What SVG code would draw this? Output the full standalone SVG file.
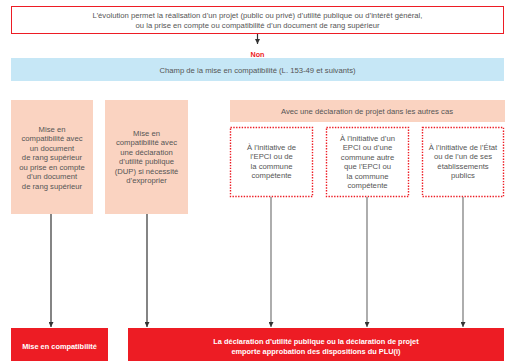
<svg xmlns="http://www.w3.org/2000/svg" width="505" height="361" viewBox="0 0 505 361">
<style>
text{font-family:"Liberation Sans",Arial,sans-serif;font-size:7.7px;fill:#555;text-anchor:middle}
.w{fill:#fff;font-weight:bold;font-size:7.4px}
.peach{fill:#fad3c1}
.dot{fill:#fff;stroke:#ed1c24;stroke-width:1.4;stroke-dasharray:1.4 1.4}
.red{fill:#ed1c24}
.dk{stroke:#333;stroke-width:1.2;fill:none}
.gr{stroke:#777;stroke-width:1.2;fill:none}
</style>
<defs>
<marker id="ah" markerWidth="6" markerHeight="5" refX="5" refY="2.5" orient="auto" markerUnits="userSpaceOnUse">
<path d="M0,0 L5,2.5 L0,5 Z" fill="#333"/>
</marker>
</defs>
<rect width="505" height="361" fill="#fff"/>
<g id="top">
<rect x="11.5" y="6.5" width="492" height="27" fill="#fff" stroke="#ed1c24" stroke-width="1"/>
<text x="257.5" y="17.5">L’évolution permet la réalisation d’un projet (public ou privé) d’utilité publique ou d’intérêt général,</text>
<text x="257.5" y="27.5">ou la prise en compte ou compatibilité d’un document de rang supérieur</text>
</g>
<g id="non"><text x="257.5" y="56.5" style="fill:#ed1c24;font-weight:bold;font-size:7.2px">Non</text></g>
<g id="champ">
<rect x="11" y="58" width="493" height="23" fill="#c6e7f6"/>
<text x="257.5" y="72.5">Champ de la mise en compatibilité (L. 153-49 et suivants)</text>
</g>
<g id="box1">
<rect class="peach" x="11" y="100" width="82" height="114"/>
<text x="52" y="131.5">Mise en</text>
<text x="52" y="141">compatibilité avec</text>
<text x="52" y="150.5">un document</text>
<text x="52" y="160">de rang supérieur</text>
<text x="52" y="169.5">ou prise en compte</text>
<text x="52" y="179">d’un document</text>
<text x="52" y="188.5">de rang supérieur</text>
</g>
<g id="box2">
<rect class="peach" x="105" y="100" width="83" height="114"/>
<text x="146.5" y="135.5">Mise en</text>
<text x="146.5" y="145">compatibilité avec</text>
<text x="146.5" y="154.5">une déclaration</text>
<text x="146.5" y="164">d’utilité publique</text>
<text x="146.5" y="173.5">(DUP) si nécessité</text>
<text x="146.5" y="183">d’exproprier</text>
</g>
<g id="header">
<rect class="peach" x="230" y="100" width="275" height="22"/>
<text x="367" y="114">Avec une déclaration de projet dans les autres cas</text>
</g>
<g id="boxA">
<rect class="dot" x="230.5" y="127.5" width="82" height="69"/>
<text x="271.5" y="149.5">À l’initiative de</text>
<text x="271.5" y="159">l’EPCI ou de</text>
<text x="271.5" y="168.5">la commune</text>
<text x="271.5" y="178">compétente</text>
</g>
<g id="boxB">
<rect class="dot" x="326.5" y="127.5" width="82" height="69"/>
<text x="367.5" y="140.5">À l’initiative d’un</text>
<text x="367.5" y="150">EPCI ou d’une</text>
<text x="367.5" y="159.5">commune autre</text>
<text x="367.5" y="169">que l’EPCI ou</text>
<text x="367.5" y="178.5">la  commune</text>
<text x="367.5" y="188">compétente</text>
</g>
<g id="boxC">
<rect class="dot" x="422.5" y="127.5" width="81" height="69"/>
<text x="463" y="149.5">À l’initiative de l’État</text>
<text x="463" y="159">ou de l’un de ses</text>
<text x="463" y="168.5">établissements</text>
<text x="463" y="178">publics</text>
</g>
<g id="out1">
<rect class="red" x="11" y="328" width="97" height="33"/>
<text class="w" x="59.5" y="349">Mise en compatibilité</text>
</g>
<g id="out2">
<rect class="red" x="128" y="328" width="376" height="33"/>
<text class="w" x="316" y="344">La déclaration d’utilité publique ou la déclaration de projet</text>
<text class="w" x="316" y="354">emporte approbation des dispositions du PLU(i)</text>
</g>
<g id="connectors">
<line class="dk" x1="257.5" y1="34" x2="257.5" y2="44" marker-end="url(#ah)"/>
<line class="dk" x1="51" y1="214" x2="51" y2="327" marker-end="url(#ah)"/>
<line class="dk" x1="147" y1="214" x2="147" y2="327" marker-end="url(#ah)"/>
<line class="gr" x1="271" y1="197" x2="271" y2="327" marker-end="url(#ah)"/>
<line class="gr" x1="367" y1="197" x2="367" y2="327" marker-end="url(#ah)"/>
<line class="gr" x1="463" y1="197" x2="463" y2="327" marker-end="url(#ah)"/>
</g>
</svg>
